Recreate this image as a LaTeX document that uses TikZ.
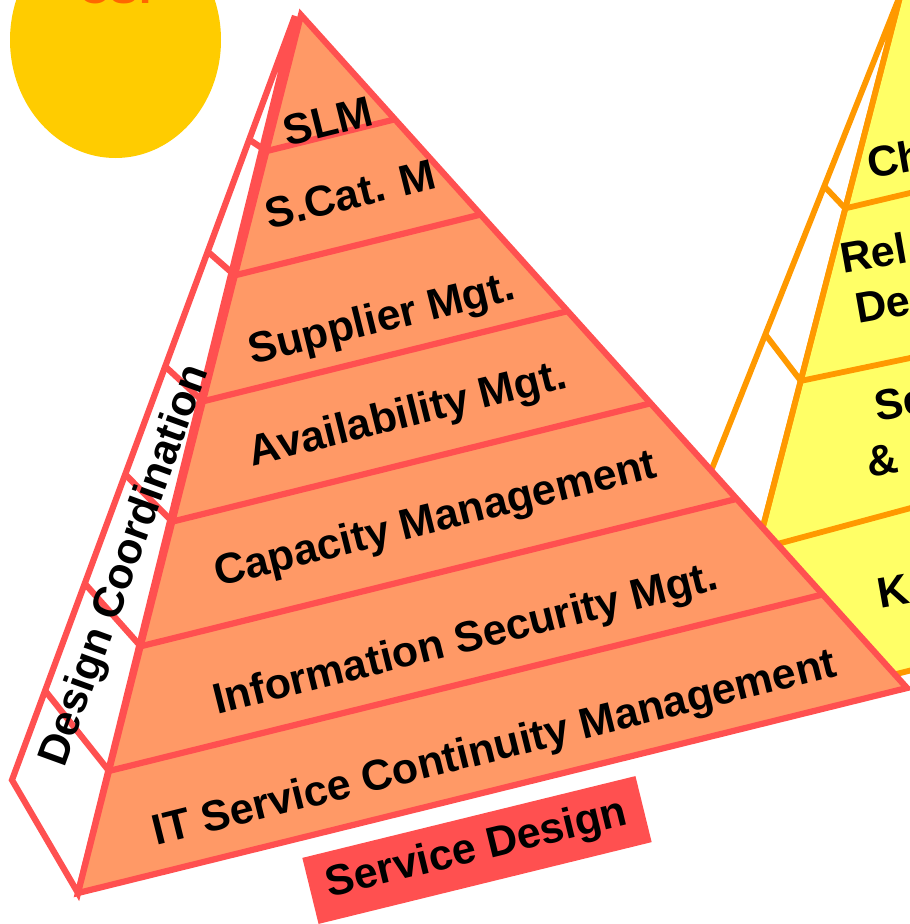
\documentclass[tikz,border=0pt]{standalone}
\usepackage{fontspec}
\setmainfont{Liberation Sans}
\usetikzlibrary{calc}
\definecolor{redline}{HTML}{FF5050}
\definecolor{orangefill}{HTML}{FF9966}
\definecolor{yelfill}{HTML}{FFFF66}
\definecolor{yelline}{HTML}{FF9900}
\definecolor{sun}{HTML}{FFCC00}
\definecolor{csi}{HTML}{FF6600}
\begin{document}
\begin{tikzpicture}[x=1pt,y=-1pt,
  redl/.style={draw=redline,line width=6.2pt},
  yell/.style={draw=yelline,line width=5.8pt},
  lbl/.style={font=\fontsize{43}{48}\selectfont\bfseries,text=black,inner sep=0pt},
  lay/.style={lbl,rotate=14},
  ylbl/.style={lbl,anchor=base west,rotate=10}]
\useasboundingbox (0,0) rectangle (910,924);
\clip (0,0) rectangle (910,924);
% sun circle
\fill[sun] (115.5,40) ellipse [x radius=105.5pt,y radius=118pt];
\node[font=\fontsize{44}{50}\selectfont\bfseries,text=csi,anchor=base west,inner sep=0pt] (csi) at (78,3.5) {CSI};
% yellow pyramid (transition)
\coordinate (YA) at (901,-7);
\coordinate (YO) at (620,700);
\coordinate (YBL) at (713,720);
\coordinate (YBR) at (1000,648);
\coordinate (YTR) at (1000,-7);
\fill[yelfill] (YA) -- (YBL) -- (YBR) -- (YTR) -- cycle;
\draw[yell,fill=white] (YA) -- (YO) -- (YBL) -- cycle;
\coordinate (y1l) at (845.2,208.4); \coordinate (y1r) at (1000,171.6);
\coordinate (y2l) at (800.8,380.9); \coordinate (y2r) at (1000,339.2);
\coordinate (y3l) at (757.2,549.4); \coordinate (y3r) at (1000,484);
\coordinate (yo1) at (824,186); \coordinate (yo2) at (765,334);
\draw[yell] (y1l) -- (y1r);
\draw[yell] (y2l) -- (y2r);
\draw[yell] (y3l) -- (y3r);
\draw[yell] (yo1) -- (y1l);
\draw[yell] (yo2) -- (y2l);
\draw[yell] (YA) -- (YBL) -- (YBR);
\node[ylbl] (ch) at (870,179) {Ch};
\node[ylbl] (rel) at (843,274) {Rel};
\node[ylbl] (de) at (858,324) {De};
\node[ylbl] (se) at (877,422) {Se};
\node[ylbl] (amp) at (869,478) {\&};
\node[ylbl] (k) at (880,609) {K};
% red pyramid (service design)
\coordinate (A) at (301,15);
\coordinate (As) at (295,16);
\coordinate (BL) at (78,893);
\coordinate (BR) at (907,688);
\coordinate (SO) at (12,780);
\draw[redl,fill=white] (As) -- (SO) -- (BL) -- cycle;
\fill[orangefill] (A) -- (BL) -- (BR) -- cycle;
\foreach \t in {0.155,0.2965,0.44,0.577,0.719,0.861}{
  \draw[redl] ($(A)!\t!(BL)$) -- ($(A)!\t!(BR)$);
}
\foreach \t/\ox/\oy in {0.155/251.3/141,0.2965/209.4/253,0.44/166.5/367.6,0.577/126.2/475.3,0.719/85.4/584.2,0.861/45.4/691}{
  \draw[redl] (\ox,\oy) -- ($(A)!\t!(BL)$);
}
\draw[redl] (A) -- (BL) -- (BR) -- cycle;
\node[lay] (slm) at (328,121) {SLM};
\node[lay] (scat) at (350,194) {S.Cat. M};
\node[lay] (sup) at (382,321) {Supplier Mgt.};
\node[lay] (avail) at (408,416) {Availability Mgt.};
\node[lay] (cap) at (436,521) {Capacity Management};
\node[lay] (isec) at (466,641) {Information Security Mgt.};
\node[lay] (itscm) at (495,750) {IT Service Continuity Management};
\node[lbl,rotate=70] (dc) at (126,566) {Design Coordination};
\node[lbl,fill=redline,rotate=13.8,minimum width=343pt,minimum height=68pt] (sd) at (477,850) {Service Design};
\end{tikzpicture}
\end{document}
